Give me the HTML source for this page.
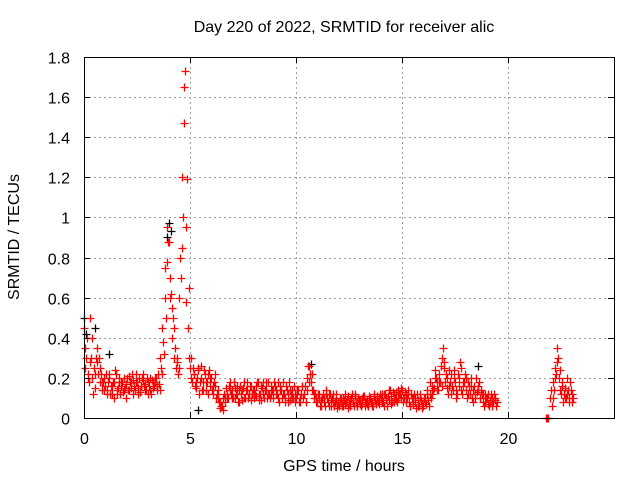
<!DOCTYPE html>
<html><head><meta charset="utf-8"><style>
html,body{margin:0;padding:0;background:#fff;}
svg{display:block;font-family:"Liberation Sans",sans-serif;}
</style></head><body>
<svg id="chart" width="640" height="480">
<text x="344" y="32" font-size="16" text-anchor="middle">Day 220 of 2022, SRMTID for receiver alic</text>
<text x="344" y="471" font-size="16" text-anchor="middle">GPS time / hours</text>
<text transform="translate(19,237) rotate(-90)" font-size="16" text-anchor="middle">SRMTID / TECUs</text>
<g id="grid"></g>
<g id="pts"></g>
<rect x="84.5" y="57.5" width="530" height="361" fill="none" stroke="#000" stroke-width="1"/>
<g id="axes"></g>
</svg>
<script>
const xTicks=[0,5,10,15,20];
const yTicks=[0,0.2,0.4,0.6,0.8,1,1.2,1.4,1.6,1.8];
const yTickLabels=["0","0.2","0.4","0.6","0.8","1","1.2","1.4","1.6","1.8"];
const sampleStep=0.1;
const redA=[.45,.30,.22,.50,.20,.15,.28,.30,.22,.18,
.16,.14,.20,.12,.18,.22,.15,.12,.18,.20,
.17,.21,.15,.19,.14,.18,.20,.16,.19,.17,
.18,.14,.19,.16,.20,.22,.30,.45,.60,.95,
.88,.62,.50,.35,.28,.60,1.20,1.65,.95,.45,
.25,.18,.22,.15,.25,.20,.14,.22,.18,.24,
.20,.12,.16,.10,.08,.06,.12,.15,.10,.18,
.14,.10,.16,.08,.12,.15,.10,.14,.12,.16,
.14,.11,.18,.12,.15,.10,.14,.18,.12,.10,
.16,.12,.08,.14,.18,.10,.12,.09,.14,.16,
.10,.14,.08,.16,.12,.20,.26,.18,.14,.12,
.08,.12,.06,.10,.14,.08,.12,.10,.06,.09,
.08,.10,.06,.12,.09,.07,.10,.08,.12,.06,
.09,.07,.11,.08,.06,.10,.08,.12,.09,.07,
.10,.08,.12,.06,.09,.11,.08,.13,.10,.12,
.14,.10,.08,.12,.06,.10,.08,.12,.06,.09,
.06,.10,.14,.18,.12,.15,.20,.14,.18,.30,
.25,.20,.16,.22,.14,.18,.12,.20,.25,.16,
.14,.18,.12,.10,.16,.20,.14,.10,.12,.08,
.10,.06,.12,.08,.09];
const redB=[.25,.40,.18,.30,.12,.22,.35,.25,.18,.14,
.22,.18,.12,.16,.10,.14,.20,.18,.13,.15,
.20,.14,.18,.12,.22,.15,.13,.20,.16,.14,
.12,.20,.15,.18,.14,.17,.25,.38,.75,.78,
.60,.40,.30,.25,.22,.80,.85,1.47,.58,.30,
.20,.25,.16,.20,.12,.26,.18,.14,.22,.16,
.14,.18,.10,.14,.05,.10,.08,.10,.16,.12,
.10,.15,.12,.14,.09,.18,.14,.10,.16,.12,
.10,.16,.12,.09,.18,.14,.10,.12,.16,.14,
.12,.18,.14,.10,.12,.16,.08,.14,.10,.12,
.14,.08,.12,.10,.16,.14,.18,.22,.10,.08,
.12,.06,.10,.08,.12,.06,.09,.12,.08,.05,
.06,.08,.10,.07,.05,.09,.12,.06,.08,.10,
.07,.10,.06,.09,.11,.08,.06,.09,.11,.10,
.08,.12,.09,.11,.14,.08,.12,.09,.14,.10,
.10,.13,.10,.08,.12,.07,.10,.06,.10,.07,
.10,.07,.09,.12,.16,.20,.14,.18,.26,.35,
.18,.15,.24,.12,.20,.14,.22,.28,.12,.18,
.20,.12,.16,.14,.10,.13,.18,.14,.08,.12,
.07,.09,.10,.12,.06];
const redC=[.35,.20,.28,.40,.25,.30,.22,.18,.14,.20,
.12,.22,.16,.18,.24,.12,.18,.16,.14,.10,
.14,.18,.22,.16,.18,.12,.16,.22,.14,.20,
.16,.12,.18,.20,.16,.14,.22,.32,.50,.88,
.70,.55,.45,.30,.25,.70,1.00,1.73,1.19,.65,
.30,.22,.18,.24,.18,.14,.24,.18,.12,.20,
.16,.22,.12,.08,.06,.04,.10,.12,.14,.10,
.18,.12,.08,.16,.14,.10,.18,.12,.09,.14,
.12,.18,.09,.16,.12,.18,.12,.10,.14,.18,
.14,.10,.16,.12,.08,.14,.18,.12,.10,.08,
.12,.10,.16,.12,.08,.26,.22,.14,.12,.10,
.10,.09,.12,.06,.10,.12,.06,.08,.12,.07,
.10,.06,.09,.08,.11,.06,.08,.11,.06,.09,
.06,.11,.08,.07,.09,.06,.11,.07,.08,.12,
.12,.06,.10,.14,.07,.13,.10,.08,.12,.15,
.08,.12,.14,.06,.10,.12,.05,.09,.12,.05,
.08,.12,.06,.10,.14,.24,.18,.22,.16,.28,
.22,.12,.18,.16,.24,.10,.16,.14,.18,.22,
.10,.16,.20,.08,.12,.16,.10,.12,.06,.10,
.12,.08,.06,.10,.08];
const lateT=[21.8,22.0,22.1,22.2,22.3,22.4,22.5,22.6,22.7,22.8,22.9,23.0];
const lateA=[0.0,.10,.18,.25,.35,.20,.12,.08,.15,.20,.10,.12];
const lateB=[0.0,.14,.10,.20,.28,.14,.18,.12,.10,.14,.18,.08];
const lateC=[0.0,.06,.14,.22,.30,.24,.16,.10,.12,.08,.14,.10];
const blackT=[0.0,0.1,1.2,3.9,4.0,4.1,5.4,18.6,10.7,0.5];
const blackV=[.50,.42,.32,.90,.97,.93,.04,.26,.27,.45];

const X=v=>84+v*530/25, Y=v=>418-v*361/1.8;
const NS="http://www.w3.org/2000/svg";
const grid=document.getElementById('grid'),axes=document.getElementById('axes'),pts=document.getElementById('pts');
function ln(g,x1,y1,x2,y2,st,dash){const l=document.createElementNS(NS,'line');l.setAttribute('x1',x1);l.setAttribute('y1',y1);l.setAttribute('x2',x2);l.setAttribute('y2',y2);l.setAttribute('stroke',st);l.setAttribute('stroke-width',1);if(dash)l.setAttribute('stroke-dasharray',dash);g.appendChild(l);return l;}
function tx(g,x,y,s,a){const t=document.createElementNS(NS,'text');t.setAttribute('x',x);t.setAttribute('y',y);t.setAttribute('font-size',16);t.setAttribute('text-anchor',a);t.textContent=s;g.appendChild(t);return t;}
yTicks.forEach((v,i)=>{const y=Math.round(Y(v))+0.5;
 if(i>0&&i<yTicks.length-1){const g=ln(grid,84,y,614,y,'#a0a0a0','2,3');
 
 }
 ln(axes,84,y,90,y,'#000');ln(axes,614,y,608,y,'#000');
 const t=tx(axes,70,y+6,yTickLabels[i],'end');
 
 });
xTicks.forEach(v=>{const x=Math.round(X(v))+0.5;
 if(v>0){const g=ln(grid,x,57,x,418,'#a0a0a0','2,3');
 
 }
 ln(axes,x,418,x,412,'#000');ln(axes,x,57,x,63,'#000');
 const t=tx(axes,x,444,String(v),'middle');
 
 });
function plus(x,y,c,name){const p=document.createElementNS(NS,'path');
 const cx=Math.round(x)+0.5,cy=Math.round(y)+0.5;
 p.setAttribute('d',`M${cx-4} ${cy}H${cx+4}M${cx} ${cy-4}V${cy+4}`);
 p.setAttribute('stroke',c);p.setAttribute('stroke-width',1.3);p.setAttribute('fill','none');
 
 
 pts.appendChild(p);}
blackT.forEach((t,i)=>plus(X(t),Y(blackV[i]),'#000','black-point'));
redA.forEach((v,i)=>{const t=i*sampleStep;plus(X(t),Y(v),'#f00','red-point');plus(X(t+sampleStep/3),Y(redB[i]),'#f00','red-point');plus(X(t+2*sampleStep/3),Y(redC[i]),'#f00','red-point');});
lateT.forEach((t,i)=>{plus(X(t),Y(lateA[i]),'#f00','red-point');plus(X(t+0.033),Y(lateB[i]),'#f00','red-point');plus(X(t+0.066),Y(lateC[i]),'#f00','red-point');});
</script>
</body></html>
